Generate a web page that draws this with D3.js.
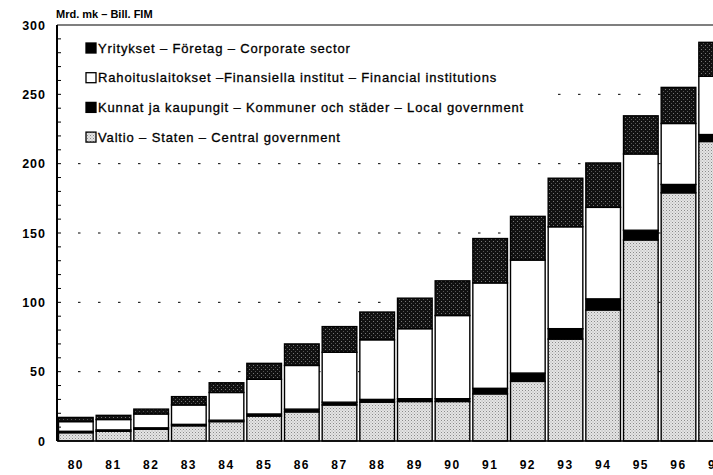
<!DOCTYPE html>
<html><head><meta charset="utf-8">
<script src="https://cdn.jsdelivr.net/npm/d3@7"></script>
<style>
html,body{margin:0;padding:0;background:#fff;}
svg{display:block;font-family:"Liberation Sans",Arial,sans-serif;}
</style></head>
<body><div id="chart"></div>
<script>
const years = ["80","81","82","83","84","85","86","87","88","89","90","91","92","93","94","95","96","97"];
const central   = [6,7,8.5,11,14,18,21,26,28,28.5,28.5,34,43,73.5,94.5,145,179,216];
const local     = [1,1,1,1,1,1.5,2,2,2,2,2,4,6,7.5,8,7,6,5];
const financial = [7,7.5,10,14,20,25,31.5,36,43,50.5,60,76,81.5,73.5,66,55,44,42];
const corporate = [3,3,3.5,6,7,11.5,15.5,18.5,20,22,25,32,31.5,35,32,27.5,26,24.5];
const seriesKeys = ["central","local","financial","corporate"];
const legendLabels = [
  ["corporate","Yritykset – Företag – Corporate sector"],
  ["financial","Rahoituslaitokset –Finansiella institut – Financial institutions"],
  ["local","Kunnat ja kaupungit – Kommuner och städer – Local government"],
  ["central","Valtio – Staten – Central government"]
];
const yTicks = [0,50,100,150,200,250,300];
const gridValues = [50,100,150,200,250];
const yUnit = "Mrd. mk – Bill. FIM";

const W=713,H=475;
const svg=d3.select("#chart").append("svg").attr("width",W).attr("height",H);
const defs=svg.append("defs");
// light stipple
const p1=defs.append("pattern").attr("id","pCentral").attr("width",3).attr("height",3).attr("patternUnits","userSpaceOnUse");
p1.append("rect").attr("width",3).attr("height",3).attr("fill","#e4e4e4");
p1.append("rect").attr("x",0).attr("y",0).attr("width",1).attr("height",1).attr("fill","#8a8a8a");
p1.append("rect").attr("x",1.5).attr("y",1.5).attr("width",1).attr("height",1).attr("fill","#a8a8a8");
// dark stipple
const p2=defs.append("pattern").attr("id","pCorp").attr("width",4).attr("height",4).attr("patternUnits","userSpaceOnUse");
p2.append("rect").attr("width",4).attr("height",4).attr("fill","#111");
p2.append("rect").attr("x",1).attr("y",1).attr("width",1).attr("height",1).attr("fill","#777");
p2.append("rect").attr("x",3).attr("y",3).attr("width",1).attr("height",1).attr("fill","#555");

const fills={central:"url(#pCentral)",local:"#000",financial:"#fff",corporate:"url(#pCorp)"};
const legendFills={central:"url(#pCentral)",local:"#000",financial:"#fff",corporate:"#000"};

const x=d3.scaleBand().domain(years).range([57,735]).paddingInner(0.08).paddingOuter(0.04);
const y=d3.scaleLinear().domain([0,300]).range([441,25]);

// gridlines
svg.append("g").selectAll("line").data(gridValues).join("line")
  .attr("x1",78).attr("x2",W).attr("y1",d=>y(d)).attr("y2",d=>y(d))
  .attr("stroke","#000").attr("stroke-width",1).attr("stroke-dasharray","2.5,17.5");

// legend background
svg.append("rect").attr("x",63).attr("y",30).attr("width",485).attr("height",118).attr("fill","#fff");

// stacked data
const rows=years.map((yr,i)=>({year:yr,central:central[i],local:local[i],financial:financial[i],corporate:corporate[i]}));
const stack=d3.stack().keys(seriesKeys)(rows);
const gBars=svg.append("g");
stack.forEach(s=>{
  gBars.selectAll(null).data(s).join("rect")
    .attr("x",d=>x(d.data.year)).attr("width",x.bandwidth())
    .attr("y",d=>y(d[1])).attr("height",d=>y(d[0])-y(d[1]))
    .attr("fill",fills[s.key]).attr("stroke","#000").attr("stroke-width",1.4);
});

// axes frame
svg.append("line").attr("x1",57).attr("x2",57).attr("y1",y(300)).attr("y2",y(0)).attr("stroke","#000").attr("stroke-width",2);
svg.append("line").attr("x1",57).attr("x2",W).attr("y1",y(0)).attr("y2",y(0)).attr("stroke","#000").attr("stroke-width",1.5);
svg.append("line").attr("x1",57).attr("x2",W).attr("y1",y(300)).attr("y2",y(300)).attr("stroke","#000").attr("stroke-width",1.2);

// minor ticks
svg.append("g").selectAll("line").data(d3.range(10,300,10)).join("line")
  .attr("x1",58).attr("x2",61).attr("y1",d=>y(d)).attr("y2",d=>y(d)).attr("stroke","#000").attr("stroke-width",1);

// y labels
svg.append("g").selectAll("text").data(yTicks).join("text")
  .attr("x",46).attr("y",d=>y(d)+4.5).attr("text-anchor","end")
  .attr("font-size",12.5).attr("letter-spacing",1).attr("font-weight","bold").text(d=>d);

// x labels
svg.append("g").selectAll("text").data(years).join("text")
  .attr("x",d=>x(d)+x.bandwidth()/2).attr("y",469).attr("text-anchor","middle")
  .attr("font-size",12).attr("letter-spacing",1.5).attr("font-weight","bold").text(d=>d);

// unit label
svg.append("text").attr("x",56).attr("y",18).attr("font-size",11).attr("font-weight","bold").text(yUnit);

// legend
const lg=svg.append("g");
legendLabels.forEach(([k,lab],i)=>{
  const cy=48+i*29.7;
  lg.append("rect").attr("x",86).attr("y",cy-5).attr("width",10).attr("height",10)
    .attr("fill",legendFills[k]).attr("stroke","#000").attr("stroke-width",1.3);
  lg.append("text").attr("x",98).attr("y",cy+4.5).attr("font-size",13).attr("letter-spacing",0.85)
    .attr("stroke","#000").attr("stroke-width",0.3).text(lab);
});
</script></body></html>
